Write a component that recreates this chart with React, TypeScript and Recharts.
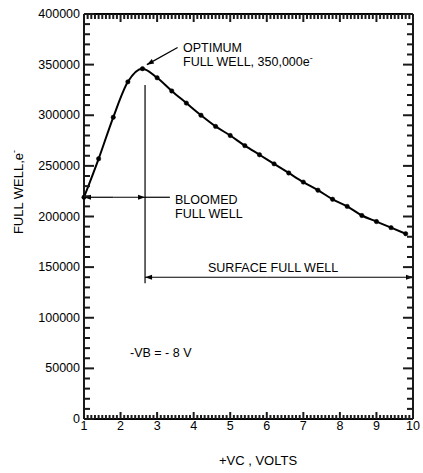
import { ComposedChart, Line, XAxis, YAxis, ReferenceLine } from 'recharts'

// +VC (volts) sampled every 0.4 V
const vc = [1, 1.4, 1.8, 2.2, 2.6, 3, 3.4, 3.8, 4.2, 4.6, 5, 5.4, 5.8, 6.2, 6.6, 7, 7.4, 7.8, 8.2, 8.6, 9, 9.4, 9.8]
// full well, electrons
const fullWell = [
  219000, 257000, 298000, 333000, 346000, 337000, 324000, 312000, 300000, 289000, 280000, 270000,
  261000, 252000, 243000, 234000, 226000, 217000, 210000, 201000, 195000, 189000, 183000,
]

const xTicks = Array.from({ length: 91 }, (_, i) => +(1 + i * 0.1).toFixed(1))
const yTicks = Array.from({ length: 41 }, (_, i) => i * 10000)

const data = vc.map((v, i) => ({ v, fw: fullWell[i] }))

const FONT = '"Liberation Sans", Arial, Helvetica, sans-serif'
const V_LINE = 2.67
const TICK = '#1a1a1a'

// chart box: 423x473, margin top 13 / right 9, top axis 1, right axis 1, y axis 84, x axis 54
const PLOT_W = 423 - 84 - 9 - 1
const PLOT_H = 473 - 13 - 1 - 54

const isInt = (v: number) => Math.abs(v - Math.round(v)) < 1e-6

// bottom axis tick: also draws the matching tick on the top frame
function BottomTick(props: any) {
  const x = Number(props.x)
  const y = Number(props.y)
  const major = isInt(props.payload.value)
  const top = y - PLOT_H
  return (
    <g>
      <path d={`M${x},${y}V${y - (major ? 7 : 4)}`} stroke={TICK} strokeWidth={2} fill="none" />
      <path d={`M${x},${top}V${top + (major ? 8 : 5)}`} stroke={TICK} strokeWidth={2} fill="none" />
      {major && (
        <text x={x} y={y + 7} textAnchor="middle" dominantBaseline="central" fontSize={12.5} fontFamily={FONT} fill="#000">
          {props.payload.value}
        </text>
      )}
    </g>
  )
}

// left axis tick: also draws the matching tick on the right frame
function LeftTick(props: any) {
  const x = Number(props.x)
  const y = Number(props.y)
  const major = props.payload.value % 50000 === 0
  const right = x + PLOT_W
  return (
    <g>
      <path d={`M${x},${y}H${x + (major ? 10 : 6)}`} stroke={TICK} strokeWidth={2} fill="none" />
      <path d={`M${right},${y}H${right - (major ? 10 : 6)}`} stroke={TICK} strokeWidth={2} fill="none" />
      {major && (
        <text x={x - 4} y={y} textAnchor="end" dominantBaseline="central" fontSize={12.5} fontFamily={FONT} fill="#000">
          {props.payload.value}
        </text>
      )}
    </g>
  )
}

const arrowShape = (head: boolean) => (p: any) => {
  const { x1, y1, x2, y2 } = p
  const dx = x2 - x1
  const dy = y2 - y1
  const len = Math.hypot(dx, dy) || 1
  const ux = dx / len
  const uy = dy / len
  const L = 7
  const W = 2.5
  const bx = x2 - ux * L
  const by = y2 - uy * L
  return (
    <g>
      <line x1={x1} y1={y1} x2={x2} y2={y2} stroke="#000" strokeWidth={1.2} />
      {head && (
        <polygon
          points={`${x2},${y2} ${bx - uy * W},${by + ux * W} ${bx + uy * W},${by - ux * W}`}
          fill="#000"
        />
      )}
    </g>
  )
}

const txt = { fontSize: 12.5, fontFamily: FONT, fill: '#000' }

export default function App() {
  return (
    <div style={{ position: 'absolute', left: 0, top: 0, background: '#fff' }}>
      <ComposedChart width={423} height={473} data={data} margin={{ top: 13, right: 9, bottom: 0, left: 0 }}>
        <XAxis
          xAxisId="b"
          dataKey="v"
          type="number"
          domain={[1, 10]}
          ticks={xTicks}
          interval={0}
          tickLine={false}
          tickSize={0}
          tickMargin={0}
          tick={<BottomTick />}
          height={54}
          axisLine={{ stroke: '#000', strokeWidth: 1.8 }}
        />
        <XAxis
          xAxisId="t"
          orientation="top"
          dataKey="v"
          type="number"
          domain={[1, 10]}
          ticks={xTicks}
          tickLine={false}
          tick={false}
          height={1}
          axisLine={{ stroke: '#000', strokeWidth: 1.8 }}
        />
        <YAxis
          yAxisId="l"
          type="number"
          domain={[0, 400000]}
          ticks={yTicks}
          interval={0}
          tickLine={false}
          tickSize={0}
          tickMargin={0}
          tick={<LeftTick />}
          width={84}
          axisLine={{ stroke: '#000', strokeWidth: 1.8 }}
        />
        <YAxis
          yAxisId="r"
          orientation="right"
          type="number"
          domain={[0, 400000]}
          ticks={yTicks}
          tickLine={false}
          tick={false}
          width={1}
          axisLine={{ stroke: '#000', strokeWidth: 1.8 }}
        />

        {/* vertical marker at optimum */}
        <ReferenceLine xAxisId="b" yAxisId="l" ifOverflow="visible"
          segment={[{ x: V_LINE, y: 330000 }, { x: V_LINE, y: 134000 }]} shape={arrowShape(false)} />
        {/* bloomed full well */}
        <ReferenceLine xAxisId="b" yAxisId="l" ifOverflow="visible"
          segment={[{ x: 1.8, y: 219000 }, { x: 1, y: 219000 }]} shape={arrowShape(true)} />
        <ReferenceLine xAxisId="b" yAxisId="l" ifOverflow="visible"
          segment={[{ x: 1.8, y: 219000 }, { x: V_LINE, y: 219000 }]} shape={arrowShape(true)} />
        <ReferenceLine xAxisId="b" yAxisId="l" ifOverflow="visible"
          segment={[{ x: V_LINE, y: 219000 }, { x: 3.35, y: 219000 }]} shape={arrowShape(false)} />
        {/* surface full well */}
        <ReferenceLine xAxisId="b" yAxisId="l" ifOverflow="visible"
          segment={[{ x: 6, y: 140000 }, { x: V_LINE, y: 140000 }]} shape={arrowShape(true)} />
        <ReferenceLine xAxisId="b" yAxisId="l" ifOverflow="visible"
          segment={[{ x: 6, y: 140000 }, { x: 10, y: 140000 }]} shape={arrowShape(true)} />
        {/* optimum pointer */}
        <ReferenceLine xAxisId="b" yAxisId="l" ifOverflow="visible"
          segment={[{ x: 3.56, y: 367000 }, { x: 2.72, y: 350000 }]} shape={arrowShape(true)} />

        <Line
          xAxisId="b"
          yAxisId="l"
          dataKey="fw"
          type="monotone"
          stroke="#000"
          strokeWidth={2}
          dot={{ r: 2.2, fill: '#000', stroke: '#000', strokeWidth: 0.5 }}
          isAnimationActive={false}
        />

        <text x={183} y={48} dominantBaseline="central" {...txt}>OPTIMUM</text>
        <text x={183} y={62} dominantBaseline="central" {...txt}>
          FULL WELL, 350,000e<tspan dy={-4} fontSize={9}>-</tspan>
        </text>
        <text x={175} y={200} dominantBaseline="central" {...txt}>BLOOMED</text>
        <text x={175} y={214} dominantBaseline="central" {...txt}>FULL WELL</text>
        <text x={208} y={268} dominantBaseline="central" {...txt}>SURFACE FULL WELL</text>
        <text x={130} y={353} dominantBaseline="central" {...txt}>-VB = - 8 V</text>
        <text x={258} y={460} textAnchor="middle" dominantBaseline="central" {...txt} fontSize={13}>+VC , VOLTS</text>
        <text x={18} y={192} textAnchor="middle" dominantBaseline="central" transform="rotate(-90 18 192)" {...txt} fontSize={13}>
          FULL WELL,e<tspan dy={-4} fontSize={9}>-</tspan>
        </text>
      </ComposedChart>
    </div>
  )
}
